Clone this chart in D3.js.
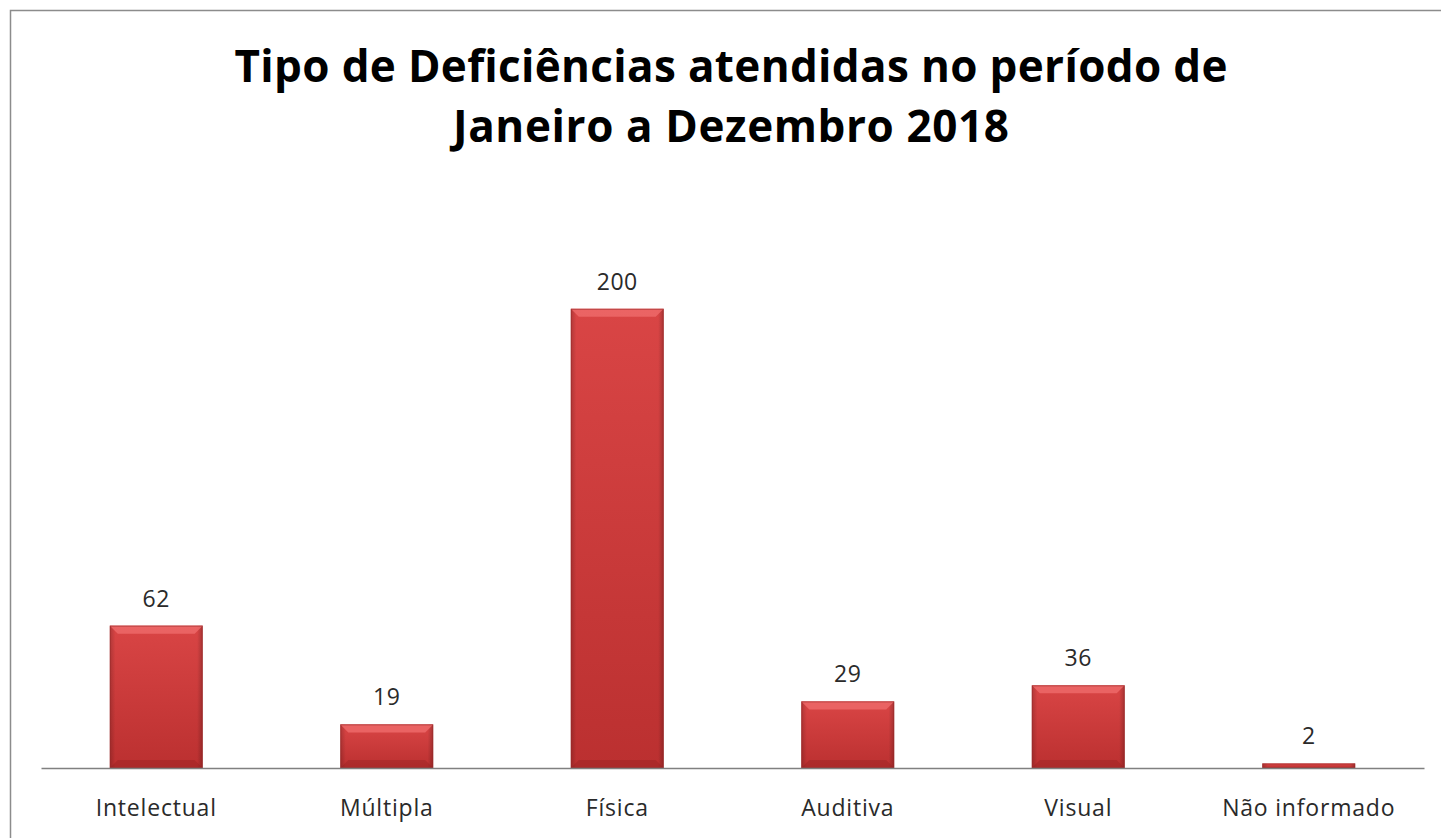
<!DOCTYPE html>
<html>
<head>
<meta charset="utf-8">
<script src="https://cdn.jsdelivr.net/npm/d3@7"></script>
<style>
  html, body { margin: 0; padding: 0; background: #fff; }
  svg { display: block; }
</style>
</head>
<body>
<div id="chart"></div>
<script>
const categories = ['Intelectual', 'Múltipla', 'Física', 'Auditiva', 'Visual', 'Não informado'];
const values = [62, 19, 200, 29, 36, 2];
const titleLines = ['Tipo de Deficiências atendidas no período de', 'Janeiro a Dezembro 2018'];

const W = 1441, H = 838;
const plot = {left: 41, right: 1424, top: 194, bottom: 768};

const svg = d3.select('#chart').append('svg')
  .attr('width', W)
  .attr('height', H);

// bar gradients
const defs = svg.append('defs');
const grad = defs.append('linearGradient')
  .attr('id', 'barFill')
  .attr('x1', 0).attr('y1', 0).attr('x2', 0).attr('y2', 1);
grad.append('stop').attr('offset', '0%').attr('stop-color', '#d94545');
grad.append('stop').attr('offset', '100%').attr('stop-color', '#bb3030');

const sideGrad = defs.append('linearGradient')
  .attr('id', 'sideFill')
  .attr('x1', 0).attr('y1', 0).attr('x2', 1).attr('y2', 0);
sideGrad.append('stop').attr('offset', '0%').attr('stop-color', '#000').attr('stop-opacity', 0.18);
sideGrad.append('stop').attr('offset', '6%').attr('stop-color', '#000').attr('stop-opacity', 0);
sideGrad.append('stop').attr('offset', '94%').attr('stop-color', '#000').attr('stop-opacity', 0);
sideGrad.append('stop').attr('offset', '100%').attr('stop-color', '#000').attr('stop-opacity', 0.22);

// outer frame
svg.append('rect')
  .attr('x', 10.5).attr('y', 10.5)
  .attr('width', W + 20).attr('height', H + 20)
  .attr('fill', '#fff')
  .attr('stroke', '#8c8c8c')
  .attr('stroke-width', 1.5);

// title
const titleWidths = [993, 556];
svg.append('g')
  .attr('font-family', 'Open Sans, sans-serif')
  .attr('font-weight', 'bold')
  .attr('font-size', 44)
  .attr('fill', '#000')
  .selectAll('text')
  .data(titleLines)
  .join('text')
  .attr('x', 731)
  .attr('y', (d, i) => 82 + i * 60)
  .attr('text-anchor', 'middle')
  .attr('textLength', (d, i) => titleWidths[i])
  .attr('lengthAdjust', 'spacing')
  .text((d) => d);

const x = d3.scaleBand()
  .domain(categories)
  .range([plot.left, plot.right])
  .paddingInner(0.597)
  .paddingOuter(0.2985);

const y = d3.scaleLinear()
  .domain([0, 250])
  .range([plot.bottom, plot.top]);

const data = categories.map((c, i) => ({cat: c, value: values[i]}));

const bars = svg.append('g').selectAll('g.bar')
  .data(data)
  .join('g')
  .attr('class', 'bar');

bars.append('rect')
  .attr('x', (d) => x(d.cat))
  .attr('y', (d) => y(d.value))
  .attr('width', x.bandwidth())
  .attr('height', (d) => y(0) - y(d.value))
  .attr('fill', 'url(#barFill)');

bars.append('rect')
  .attr('x', (d) => x(d.cat))
  .attr('y', (d) => y(d.value))
  .attr('width', x.bandwidth())
  .attr('height', (d) => y(0) - y(d.value))
  .attr('fill', 'url(#sideFill)');

// bevel highlight on top edge
const bevel = 8;
bars.filter((d) => y(0) - y(d.value) > bevel * 2)
  .append('path')
  .attr('d', (d) => {
    const x0 = x(d.cat), x1 = x0 + x.bandwidth(), y0 = y(d.value);
    return `M${x0},${y0}L${x1},${y0}L${x1 - bevel},${y0 + bevel}L${x0 + bevel},${y0 + bevel}Z`;
  })
  .attr('fill', '#ef6b6b')
  .attr('opacity', 0.8);

// bevel shade on bottom edge
bars.filter((d) => y(0) - y(d.value) > bevel * 2)
  .append('path')
  .attr('d', (d) => {
    const x0 = x(d.cat), x1 = x0 + x.bandwidth(), yb = y(0);
    return `M${x0},${yb}L${x1},${yb}L${x1 - bevel},${yb - bevel}L${x0 + bevel},${yb - bevel}Z`;
  })
  .attr('fill', '#8e1f1f')
  .attr('opacity', 0.35);

bars.append('rect')
  .attr('x', (d) => x(d.cat) + 0.5)
  .attr('y', (d) => y(d.value) + 0.5)
  .attr('width', x.bandwidth() - 1)
  .attr('height', (d) => Math.max(0, y(0) - y(d.value) - 1))
  .attr('fill', 'none')
  .attr('stroke', '#9a2a2a')
  .attr('stroke-opacity', 0.6);

// value labels
bars.append('text')
  .attr('x', (d) => x(d.cat) + x.bandwidth() / 2)
  .attr('y', (d) => y(d.value) - 19)
  .attr('text-anchor', 'middle')
  .attr('font-family', 'Open Sans, sans-serif')
  .attr('font-size', 23)
  .attr('letter-spacing', 0.5)
  .attr('fill', '#2a2a2a')
  .text((d) => d.value);

// x axis
const xAxis = d3.axisBottom(x).tickSize(0).tickPadding(32);
const axisG = svg.append('g')
  .attr('transform', `translate(0,${plot.bottom})`)
  .call(xAxis);
axisG.select('.domain').attr('stroke', '#808080').attr('stroke-width', 1.5);
axisG.selectAll('text')
  .attr('font-family', 'Open Sans, sans-serif')
  .attr('font-size', 23)
  .attr('letter-spacing', 0.8)
  .attr('fill', '#2a2a2a');
</script>
</body>
</html>
